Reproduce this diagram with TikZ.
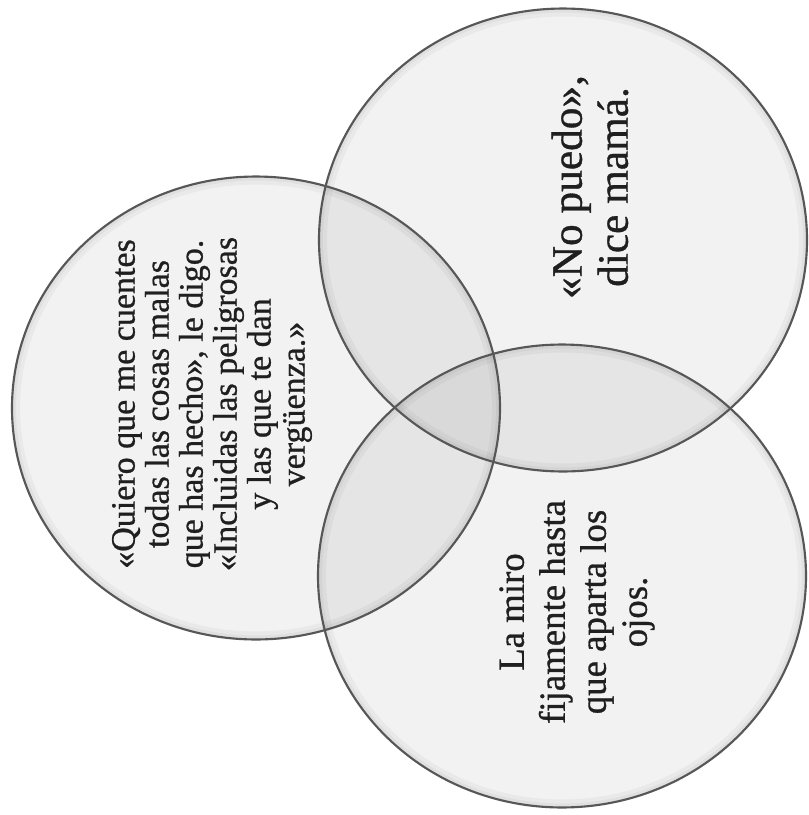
\documentclass[tikz,border=0pt]{standalone}
\usepackage{fontspec}
\setmainfont{Liberation Serif}
\newfontfamily\heavyserif{Liberation Serif}[FakeBold=0.8]
\begin{document}
\begin{tikzpicture}[x=0.75pt,y=-0.75pt,
  bubblefill/.style={fill=black, fill opacity=0.05},
  bubbleline/.style={draw=black!66, line width=1.6pt},
  rim/.style={draw=black, line width=#1, draw opacity=0.035},
  label/.style={align=center, rotate=90, text=black!88, inner sep=0pt}]
\useasboundingbox (0,0) rectangle (808,815);
\fill[white] (0,0) rectangle (808,815);
\coordinate (cL) at (256,408);
\coordinate (cT) at (563,240);
\coordinate (cB) at (562,576);
% fills
\foreach \c in {cL,cT,cB}{
  \fill[bubblefill] (\c) ellipse [x radius=183pt, y radius=173.6pt];
}
% inner rim shading
\foreach \c in {cL,cT,cB}{
  \begin{scope}
    \clip (\c) ellipse [x radius=183pt, y radius=173.6pt];
    \draw[rim=12pt] (\c) ellipse [x radius=183pt, y radius=173.6pt];
    \draw[rim=6pt] (\c) ellipse [x radius=183pt, y radius=173.6pt];
  \end{scope}
}
% outlines
\foreach \c in {cL,cT,cB}{
  \draw[bubbleline] (\c) ellipse [x radius=183pt, y radius=173.6pt];
}
% texts
\node[label, font=\heavyserif\fontsize{25.5pt}{25.5pt}\selectfont] (tL) at (212,404)
  {«Quiero que me cuentes\\todas las cosas malas\\que has hecho», le digo.\\«Incluidas las peligrosas\\y las que te dan\\vergüenza.»};
\node[label, font=\heavyserif\fontsize{32.5pt}{34.5pt}\selectfont] (tT) at (590,187)
  {«No puedo»,\\dice mamá.};
\node[label, font=\heavyserif\fontsize{27.6pt}{30.75pt}\selectfont] (tB) at (577,612)
  {La miro\\fijamente hasta\\que aparta los\\ojos.};
\end{tikzpicture}
\end{document}
